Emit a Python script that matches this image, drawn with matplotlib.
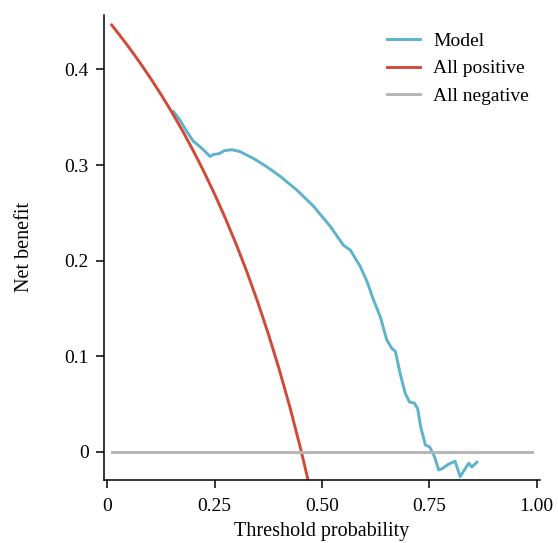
import matplotlib
matplotlib.use("Agg")
import matplotlib.pyplot as plt

plt.rcParams['font.family'] = ['Liberation Serif', 'DejaVu Serif']

# threshold probabilities and net benefit
model_t = [0.154, 0.169, 0.185, 0.200, 0.216, 0.228, 0.239, 0.247, 0.261, 0.272,
           0.290, 0.309, 0.340, 0.372, 0.403, 0.441, 0.480, 0.519, 0.550, 0.566,
           0.589, 0.605, 0.620, 0.636, 0.651, 0.663, 0.671, 0.682, 0.694, 0.704,
           0.715, 0.723, 0.730, 0.741, 0.751, 0.762, 0.772, 0.779, 0.795, 0.810,
           0.822, 0.842, 0.849, 0.861]
model_nb = [0.356, 0.347, 0.335, 0.325, 0.319, 0.314, 0.309, 0.311, 0.312, 0.315,
            0.316, 0.314, 0.307, 0.298, 0.288, 0.274, 0.257, 0.236, 0.216, 0.211,
            0.194, 0.178, 0.159, 0.141, 0.117, 0.108, 0.105, 0.082, 0.061, 0.052,
            0.051, 0.045, 0.026, 0.007, 0.005, -0.005, -0.019, -0.018, -0.013, -0.010,
            -0.026, -0.012, -0.016, -0.011]

allpos_t = [0.01, 0.025, 0.05, 0.075, 0.10, 0.125, 0.15, 0.175, 0.20, 0.225,
            0.25, 0.275, 0.30, 0.325, 0.35, 0.375, 0.40, 0.425, 0.45, 0.475]
allpos_nb = [0.4465, 0.4379, 0.4232, 0.4076, 0.3911, 0.3737, 0.3553, 0.3358, 0.3150, 0.2929,
             0.2693, 0.2441, 0.2171, 0.1882, 0.1569, 0.1232, 0.0867, 0.0470, 0.0036, -0.0438]

allneg_t = [0.01, 0.99]
allneg_nb = [0, 0]

xticks = [0, 0.25, 0.50, 0.75, 1.00]
xticklabels = ['0', '0.25', '0.50', '0.75', '1.00']
yticks = [0, 0.1, 0.2, 0.3, 0.4]
yticklabels = ['0', '0.1', '0.2', '0.3', '0.4']

fig = plt.figure(figsize=(5.58, 5.43), dpi=100)
ax = fig.add_axes([0.1864, 0.116, 0.7813, 0.8564])

ax.plot(model_t, model_nb, color='#5DB3CB', lw=2.1, label='Model')
ax.plot(allpos_t, allpos_nb, color='#D04A38', lw=2.1, label='All positive')
ax.plot(allneg_t, allneg_nb, color='#B5B5B5', lw=2.1, label='All negative')

ax.set_xlim(-0.008, 1.008)
ax.set_ylim(-0.0296, 0.457)
ax.set_xticks(xticks)
ax.set_xticklabels(xticklabels)
ax.set_yticks(yticks)
ax.set_yticklabels(yticklabels)

for s in ['top', 'right']:
    ax.spines[s].set_visible(False)
for s in ['left', 'bottom']:
    ax.spines[s].set_linewidth(1.1)
ax.tick_params(axis='both', labelsize=14, length=6, width=1.1, direction='out')
ax.tick_params(axis='x', pad=7)
ax.tick_params(axis='y', pad=5)

ax.set_xlabel('Threshold probability', fontsize=14.5, labelpad=5)
ax.set_ylabel('Net benefit', fontsize=14.5, labelpad=22)

ax.legend(loc='upper right', frameon=False, fontsize=14, handlelength=1.7,
          handletextpad=0.7, labelspacing=0.5, bbox_to_anchor=(1.015, 1.0))

plt.savefig("out.png")
